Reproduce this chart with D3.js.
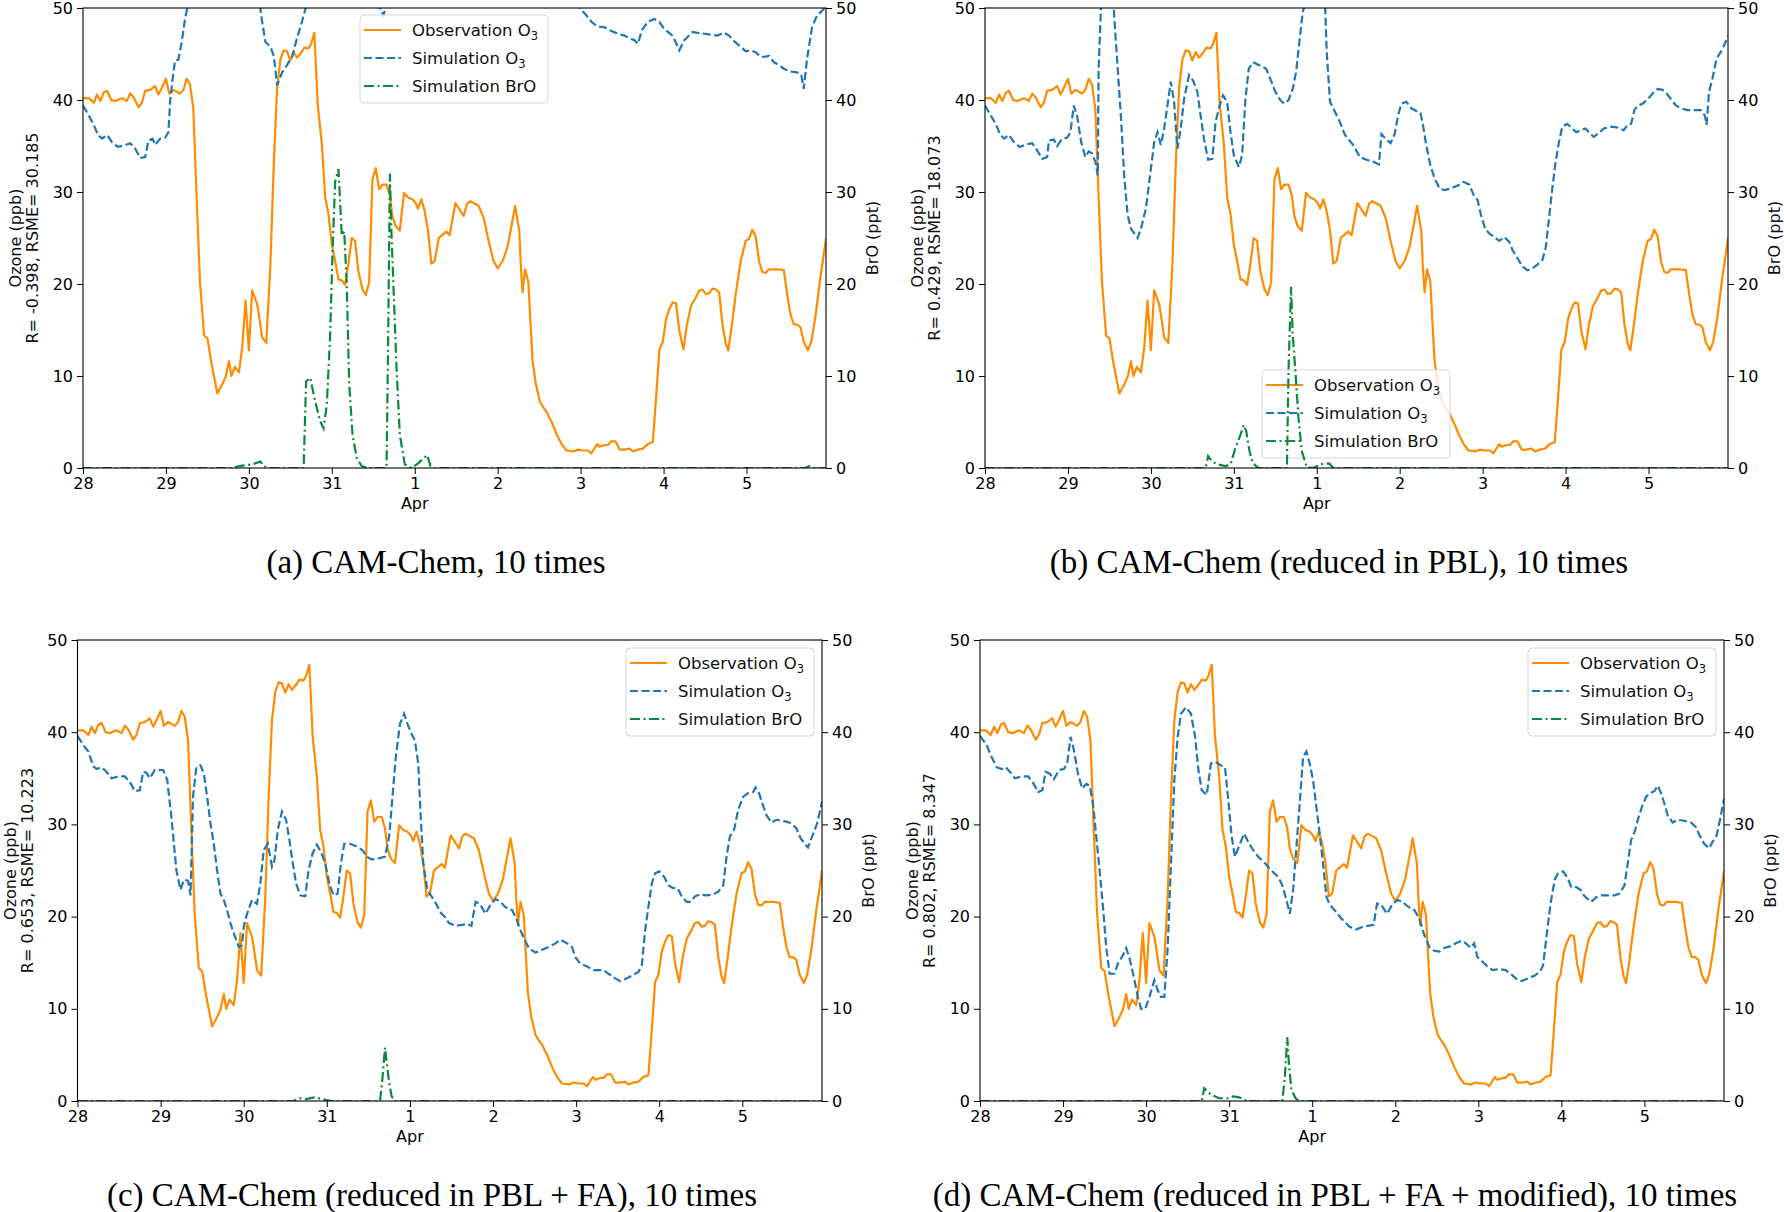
<!DOCTYPE html>
<html>
<head>
<meta charset="utf-8">
<script src="https://cdn.jsdelivr.net/npm/d3@7"></script>
<style>
  body { margin: 0; background: #fff; }
  svg { font-family: "DejaVu Sans", sans-serif; }
</style>
</head>
<body>
<svg id="fig" width="1784" height="1212"></svg>
<script>
// values: [days since 28 Mar 00:00, value]
const obsO3 = [[0,40.2],[0.07,40.2],[0.13,39.7],[0.17,40.6],[0.21,39.9],[0.25,40.8],[0.29,41.0],[0.34,40.0],[0.39,39.9],[0.47,40.2],[0.53,39.9],[0.57,40.7],[0.61,40.3],[0.67,39.2],[0.71,39.7],[0.75,41.0],[0.81,41.1],[0.87,41.5],[0.91,40.6],[0.95,41.3],[1.00,42.3],[1.04,40.7],[1.09,41.1],[1.13,40.9],[1.17,40.7],[1.21,41.1],[1.25,42.3],[1.29,41.7],[1.33,39.1],[1.37,29.4],[1.41,20.3],[1.46,14.4],[1.50,14.1],[1.55,11.3],[1.62,8.1],[1.68,9.1],[1.72,9.9],[1.76,11.6],[1.79,10.0],[1.83,11.0],[1.88,10.4],[1.92,13.1],[1.96,18.2],[2.00,12.8],[2.04,19.3],[2.10,17.8],[2.12,16.7],[2.16,14.2],[2.21,13.6],[2.26,22.2],[2.30,33.0],[2.34,41.3],[2.38,44.4],[2.42,45.4],[2.46,45.3],[2.50,44.3],[2.54,45.2],[2.58,44.6],[2.62,45.0],[2.67,45.7],[2.72,45.6],[2.75,46.1],[2.79,47.3],[2.83,39.5],[2.88,35.2],[2.92,29.4],[2.96,27.6],[3.00,24.3],[3.04,22.5],[3.08,20.5],[3.12,20.4],[3.16,19.9],[3.20,22.2],[3.24,25.0],[3.28,24.7],[3.32,21.4],[3.37,19.4],[3.41,18.8],[3.45,20.2],[3.49,31.4],[3.53,32.6],[3.57,30.3],[3.61,30.8],[3.66,30.8],[3.70,29.6],[3.73,27.4],[3.77,26.3],[3.82,25.8],[3.87,29.9],[3.92,29.4],[3.97,29.2],[4.01,28.8],[4.04,28.2],[4.08,29.2],[4.12,27.9],[4.16,25.8],[4.20,22.2],[4.24,22.5],[4.29,25.0],[4.34,25.4],[4.38,25.7],[4.42,25.3],[4.49,28.8],[4.54,28.1],[4.59,27.4],[4.63,28.7],[4.67,29.0],[4.73,28.7],[4.77,28.5],[4.83,27.2],[4.89,24.7],[4.95,22.5],[5.00,21.7],[5.06,22.5],[5.12,24.1],[5.17,26.5],[5.21,28.5],[5.26,25.8],[5.28,21.8],[5.30,19.1],[5.33,21.6],[5.37,20.2],[5.39,16.7],[5.42,11.7],[5.46,9.1],[5.51,7.2],[5.55,6.6],[5.59,6.1],[5.65,5.0],[5.71,3.7],[5.77,2.6],[5.83,1.9],[5.91,1.8],[5.97,2.0],[6.03,1.9],[6.09,1.9],[6.13,1.6],[6.20,2.6],[6.23,2.3],[6.29,2.5],[6.33,2.5],[6.37,2.9],[6.42,2.9],[6.47,2.0],[6.53,2.0],[6.59,2.1],[6.63,1.8],[6.69,2.0],[6.75,2.1],[6.81,2.6],[6.87,2.8],[6.91,7.7],[6.95,12.9],[6.99,13.7],[7.03,16.2],[7.07,17.3],[7.11,18.0],[7.15,17.9],[7.19,14.9],[7.24,12.9],[7.28,15.5],[7.33,17.6],[7.38,18.4],[7.43,19.3],[7.47,19.4],[7.51,18.9],[7.55,19.0],[7.59,19.5],[7.63,19.4],[7.67,19.1],[7.71,15.6],[7.75,13.5],[7.78,12.8],[7.82,15.3],[7.87,18.9],[7.93,22.5],[7.99,24.7],[8.03,24.9],[8.07,25.9],[8.11,25.2],[8.15,22.5],[8.19,21.3],[8.23,21.2],[8.27,21.6],[8.37,21.6],[8.45,21.5],[8.49,18.9],[8.53,16.7],[8.57,15.6],[8.61,15.6],[8.65,15.3],[8.69,13.7],[8.74,12.8],[8.78,13.7],[8.83,16.4],[8.89,20.7],[8.96,25.0]];

// (a) parts above 50 are hidden by the axes, rough guesses there
const simO3A = [[0,39.4],[0.07,38.3],[0.13,37.3],[0.18,36.2],[0.23,35.8],[0.29,36.2],[0.35,35.4],[0.42,34.9],[0.51,35.1],[0.57,35.3],[0.63,34.7],[0.69,33.7],[0.75,33.8],[0.79,35.6],[0.84,35.8],[0.87,35.1],[0.93,35.8],[0.99,35.9],[1.03,36.5],[1.05,39.8],[1.08,42.3],[1.11,44.3],[1.15,44.4],[1.19,46.3],[1.23,48.8],[1.27,50.5],[1.4,56],[1.7,60],[2.0,56],[2.13,50.5],[2.16,48.5],[2.20,46.3],[2.26,45.8],[2.30,44.8],[2.34,41.6],[2.40,43.0],[2.46,43.8],[2.52,44.7],[2.58,46.7],[2.64,48.5],[2.70,50.5],[2.9,57],[3.2,58],[3.45,53],[3.57,50.2],[3.62,49.2],[3.67,50.5],[4.0,58],[4.6,60],[5.3,57],[5.8,53],[5.96,50.3],[6.05,49.4],[6.13,48.5],[6.20,48.0],[6.29,47.9],[6.37,47.5],[6.45,47.2],[6.53,47.0],[6.59,46.7],[6.65,46.5],[6.69,46.1],[6.74,47.6],[6.81,48.5],[6.89,48.8],[6.95,48.5],[7.01,47.7],[7.11,47.0],[7.19,45.4],[7.25,46.5],[7.35,47.4],[7.41,47.3],[7.49,47.2],[7.57,47.1],[7.65,47.0],[7.73,47.3],[7.79,47.0],[7.85,46.4],[7.93,45.8],[7.99,45.3],[8.05,45.4],[8.11,45.2],[8.17,44.7],[8.22,44.7],[8.27,44.8],[8.33,44.1],[8.39,43.8],[8.45,43.4],[8.53,43.1],[8.61,43.0],[8.66,42.7],[8.69,41.2],[8.73,44.5],[8.79,47.9],[8.85,49.2],[8.89,49.5],[8.96,50.2]];

const simO3B = [[0,39.4],[0.07,38.3],[0.13,37.4],[0.18,36.3],[0.23,35.8],[0.29,36.2],[0.35,35.4],[0.42,34.9],[0.51,35.2],[0.57,35.3],[0.63,34.5],[0.69,33.6],[0.75,33.8],[0.77,35.6],[0.83,35.7],[0.87,35.0],[0.93,35.8],[0.99,35.9],[1.03,36.5],[1.07,39.4],[1.11,38.3],[1.16,35.4],[1.21,33.8],[1.25,34.4],[1.29,34.2],[1.33,33.3],[1.36,31.8],[1.37,43.4],[1.40,50.5],[1.47,56],[1.55,50.5],[1.56,48.8],[1.60,43.4],[1.64,38.0],[1.68,31.5],[1.72,27.5],[1.76,26.0],[1.84,25.0],[1.88,26.0],[1.94,28.2],[1.99,31.8],[2.04,35.4],[2.08,36.5],[2.12,35.1],[2.16,36.9],[2.20,39.4],[2.24,42.0],[2.28,39.8],[2.32,34.7],[2.36,36.9],[2.40,40.1],[2.46,42.7],[2.51,42.1],[2.56,40.9],[2.60,38.3],[2.64,35.8],[2.69,33.5],[2.74,33.6],[2.78,37.6],[2.82,39.1],[2.87,40.5],[2.92,39.8],[2.96,36.5],[3.00,34.0],[3.06,32.7],[3.10,34.0],[3.14,40.1],[3.18,43.4],[3.23,44.1],[3.30,43.8],[3.39,43.4],[3.44,42.3],[3.50,40.9],[3.56,40.0],[3.61,39.6],[3.66,40.0],[3.71,41.2],[3.75,43.0],[3.79,46.3],[3.83,49.5],[3.86,50.5],[3.98,56],[4.10,50.5],[4.12,45.2],[4.16,39.8],[4.22,38.7],[4.28,37.6],[4.34,36.2],[4.44,35.1],[4.52,33.8],[4.60,33.5],[4.68,33.3],[4.75,33.0],[4.78,36.3],[4.83,35.8],[4.89,35.3],[4.94,36.3],[4.98,38.3],[5.02,39.6],[5.08,39.8],[5.14,39.1],[5.20,38.8],[5.25,38.6],[5.28,37.3],[5.32,35.1],[5.37,32.9],[5.42,31.5],[5.48,30.4],[5.54,30.2],[5.62,30.4],[5.70,30.7],[5.77,31.1],[5.84,30.8],[5.89,29.7],[5.94,29.1],[5.98,27.5],[6.03,26.0],[6.08,25.5],[6.14,25.1],[6.20,24.7],[6.26,25.1],[6.32,24.6],[6.36,23.7],[6.42,22.8],[6.48,21.9],[6.54,21.5],[6.60,21.7],[6.66,22.1],[6.72,22.6],[6.76,23.9],[6.80,27.1],[6.84,30.4],[6.88,33.3],[6.92,35.4],[6.96,37.1],[7.02,37.4],[7.08,36.9],[7.13,36.5],[7.18,36.7],[7.24,36.9],[7.30,36.3],[7.34,36.0],[7.40,36.4],[7.46,36.9],[7.55,37.1],[7.63,37.0],[7.70,36.7],[7.75,37.3],[7.79,37.4],[7.83,38.9],[7.87,39.4],[7.93,39.6],[7.99,40.1],[8.05,40.7],[8.11,41.2],[8.17,41.1],[8.22,40.7],[8.27,40.1],[8.33,39.4],[8.39,39.1],[8.47,38.9],[8.55,38.9],[8.63,38.9],[8.68,38.3],[8.70,37.3],[8.73,40.9],[8.77,42.3],[8.82,44.5],[8.87,45.2],[8.91,45.9],[8.96,47.0]];

const simO3C = [[0,39.6],[0.07,38.6],[0.13,37.9],[0.19,36.3],[0.23,36.0],[0.28,36.2],[0.33,35.9],[0.41,35.0],[0.49,35.2],[0.57,35.2],[0.63,34.6],[0.69,33.6],[0.75,33.7],[0.79,35.7],[0.83,35.6],[0.87,35.0],[0.93,35.9],[0.99,35.9],[1.03,35.9],[1.08,34.8],[1.13,30.8],[1.19,25.0],[1.24,22.9],[1.28,24.0],[1.33,23.9],[1.36,22.3],[1.39,33.0],[1.43,36.2],[1.48,36.4],[1.52,35.5],[1.56,33.0],[1.60,30.1],[1.64,27.9],[1.68,25.0],[1.72,22.5],[1.76,21.8],[1.80,20.7],[1.84,19.3],[1.88,18.2],[1.94,16.7],[1.98,16.9],[2.00,18.9],[2.04,20.3],[2.10,21.8],[2.16,21.4],[2.20,23.6],[2.24,27.2],[2.29,27.9],[2.34,25.4],[2.37,26.1],[2.41,29.4],[2.46,31.4],[2.51,30.5],[2.55,28.3],[2.59,25.8],[2.63,23.6],[2.68,22.3],[2.74,22.2],[2.78,25.0],[2.83,26.9],[2.88,27.8],[2.93,27.0],[2.98,25.8],[3.03,23.6],[3.08,22.3],[3.13,22.5],[3.17,25.8],[3.21,27.9],[3.28,27.9],[3.36,27.6],[3.43,27.2],[3.48,26.5],[3.54,26.2],[3.62,26.3],[3.70,26.5],[3.75,28.7],[3.79,33.0],[3.83,37.3],[3.88,40.9],[3.93,42.0],[3.97,40.9],[4.01,40.0],[4.06,39.1],[4.10,36.6],[4.13,30.8],[4.16,25.8],[4.21,22.9],[4.26,22.2],[4.32,21.3],[4.38,20.3],[4.41,20.1],[4.47,19.3],[4.55,19.0],[4.63,19.1],[4.69,19.2],[4.74,19.0],[4.79,21.6],[4.84,21.4],[4.91,20.3],[4.97,21.3],[5.03,21.9],[5.09,21.6],[5.15,21.0],[5.23,20.7],[5.28,19.8],[5.33,18.5],[5.38,17.5],[5.43,16.6],[5.51,16.1],[5.59,16.4],[5.69,16.8],[5.75,17.1],[5.81,17.5],[5.89,17.1],[5.95,16.7],[5.99,15.6],[6.05,14.9],[6.13,14.6],[6.21,14.2],[6.33,14.2],[6.39,13.8],[6.47,13.3],[6.53,13.0],[6.61,13.3],[6.69,13.7],[6.75,14.0],[6.79,14.7],[6.83,18.5],[6.87,21.1],[6.91,23.6],[6.95,24.7],[7.00,24.9],[7.06,24.3],[7.11,23.4],[7.16,23.1],[7.22,23.1],[7.27,22.2],[7.33,21.6],[7.38,21.6],[7.43,22.2],[7.49,22.4],[7.57,22.3],[7.65,22.4],[7.71,22.7],[7.77,23.4],[7.81,26.5],[7.85,28.7],[7.90,29.4],[7.95,31.6],[8.01,33.0],[8.07,33.4],[8.13,33.5],[8.16,34.0],[8.20,33.4],[8.24,32.3],[8.29,31.0],[8.35,30.2],[8.41,30.5],[8.47,30.4],[8.53,30.3],[8.59,30.1],[8.65,29.6],[8.70,28.5],[8.76,27.8],[8.79,27.5],[8.84,28.7],[8.90,30.1],[8.96,32.5]];

const simO3D = [[0,39.6],[0.08,38.6],[0.14,37.3],[0.20,36.2],[0.26,36.0],[0.31,36.2],[0.36,35.7],[0.42,35.0],[0.50,35.2],[0.58,35.2],[0.64,34.5],[0.70,33.5],[0.75,33.7],[0.79,35.7],[0.84,35.5],[0.89,34.9],[0.95,35.9],[1.01,36.0],[1.05,36.6],[1.09,39.5],[1.13,38.1],[1.18,35.5],[1.23,33.9],[1.28,34.4],[1.32,34.2],[1.36,32.3],[1.40,28.7],[1.44,25.0],[1.48,21.1],[1.52,16.7],[1.56,13.8],[1.62,13.8],[1.66,14.9],[1.72,15.8],[1.76,16.6],[1.80,15.5],[1.86,13.1],[1.90,11.3],[1.94,10.0],[1.99,10.0],[2.04,11.3],[2.10,13.1],[2.14,12.0],[2.18,11.3],[2.22,11.3],[2.26,16.7],[2.30,25.8],[2.34,34.8],[2.38,39.5],[2.42,42.0],[2.48,42.7],[2.54,42.0],[2.59,39.5],[2.63,35.9],[2.67,33.7],[2.73,33.2],[2.78,36.6],[2.83,36.8],[2.90,36.4],[2.95,36.2],[2.99,32.6],[3.03,28.7],[3.07,26.5],[3.13,27.9],[3.18,29.0],[3.23,28.1],[3.29,27.2],[3.35,26.5],[3.43,25.8],[3.51,25.0],[3.59,24.3],[3.64,23.4],[3.69,21.8],[3.73,20.3],[3.77,22.9],[3.81,27.6],[3.85,32.3],[3.89,37.3],[3.93,37.9],[3.97,36.6],[4.01,34.8],[4.05,31.9],[4.09,29.0],[4.13,25.8],[4.17,22.2],[4.21,21.3],[4.27,20.7],[4.35,19.8],[4.45,18.9],[4.53,18.6],[4.61,18.9],[4.67,19.0],[4.74,19.1],[4.78,21.4],[4.83,21.3],[4.90,20.3],[4.97,21.4],[5.03,21.8],[5.09,21.6],[5.15,21.1],[5.23,20.7],[5.29,19.8],[5.35,18.0],[5.41,16.7],[5.47,16.3],[5.53,16.2],[5.59,16.6],[5.67,16.8],[5.73,17.1],[5.80,17.4],[5.85,17.1],[5.91,16.6],[5.95,17.1],[5.99,15.6],[6.05,15.1],[6.11,14.6],[6.17,14.2],[6.25,14.3],[6.33,14.2],[6.39,13.8],[6.45,13.3],[6.52,13.0],[6.60,13.3],[6.68,13.6],[6.74,14.0],[6.78,14.7],[6.82,17.8],[6.87,21.4],[6.92,24.0],[6.96,24.7],[7.02,24.9],[7.07,24.3],[7.12,23.2],[7.18,23.2],[7.23,22.9],[7.28,22.2],[7.36,21.6],[7.42,22.1],[7.48,22.3],[7.56,22.3],[7.64,22.3],[7.70,22.5],[7.76,23.4],[7.80,25.8],[7.84,28.3],[7.89,29.4],[7.92,30.5],[7.97,31.9],[8.02,33.0],[8.07,33.4],[8.12,33.6],[8.16,34.2],[8.20,33.4],[8.24,32.3],[8.28,31.0],[8.34,30.2],[8.40,30.5],[8.48,30.4],[8.56,30.2],[8.62,29.7],[8.67,28.7],[8.72,27.9],[8.78,27.4],[8.82,28.1],[8.87,28.8],[8.91,30.5],[8.96,32.8]];

const broA = [[0,0],[1.80,0],[1.88,0.2],[2.04,0.4],[2.14,0.7],[2.18,0.2],[2.24,0],[2.66,0],[2.69,9.4],[2.74,9.8],[2.80,7.2],[2.86,5.1],[2.90,4.3],[2.94,6.9],[2.98,14.5],[3.01,23.9],[3.04,31.1],[3.08,32.5],[3.10,28.9],[3.12,25.3],[3.15,25.7],[3.18,19.9],[3.21,9.0],[3.25,3.6],[3.30,1.1],[3.36,0.2],[3.44,0],[3.66,0],[3.68,14.5],[3.70,32.0],[3.72,25.3],[3.75,18.1],[3.78,10.9],[3.82,3.6],[3.88,0.4],[3.96,0],[4.04,0.5],[4.15,1.4],[4.19,0.2],[4.24,0],[8.70,0],[8.76,0.2],[8.82,0],[8.96,0]];
const broB = [[0,0],[2.66,0],[2.69,1.3],[2.74,0.7],[2.80,0.4],[2.90,0.2],[2.96,0.4],[3.02,2.2],[3.08,3.6],[3.12,4.7],[3.15,4.0],[3.19,1.8],[3.23,0.5],[3.30,0],[3.64,0],[3.66,10.8],[3.69,19.7],[3.71,14.5],[3.74,10.8],[3.78,5.4],[3.82,1.8],[3.88,0.1],[3.96,0],[4.04,0.4],[4.15,0.5],[4.20,0],[8.96,0]];
const broC = [[0,0],[2.60,0],[2.68,0.3],[2.75,0.2],[2.85,0.4],[2.95,0.2],[3.05,0],[3.64,0],[3.67,2.5],[3.70,5.8],[3.72,4.2],[3.75,2.0],[3.78,0.5],[3.82,0],[8.96,0]];
const broD = [[0,0],[2.67,0],[2.70,1.4],[2.78,0.7],[2.88,0.3],[2.98,0.3],[3.05,0.5],[3.12,0.4],[3.17,0.2],[3.21,0],[3.64,0],[3.67,2.5],[3.70,6.9],[3.72,4.0],[3.75,1.2],[3.80,0.3],[3.84,0],[8.96,0]];

const statLabels = ["R= -0.398, RSME= 30.185", "R= 0.429, RSME= 18.073", "R= 0.653, RSME= 10.223", "R= 0.802, RSME= 8.347"];
const captions = ["(a) CAM-Chem, 10 times", "(b) CAM-Chem (reduced in PBL), 10 times",
  "(c) CAM-Chem (reduced in PBL + FA), 10 times", "(d) CAM-Chem (reduced in PBL + FA + modified), 10 times"];
const legendNames = ["Observation O", "Simulation O", "Simulation BrO"];
const yTicks = [0, 10, 20, 30, 40, 50];

const simSets = [simO3A, simO3B, simO3C, simO3D];
const broSets = [broA, broB, broC, broD];

// layout of the four panels (pixels)
const panels = [
  { l: 83, r: 826, t: 8, b: 468, capX: 436, capY: 573, lgX: 360, lgY: 15 },
  { l: 985, r: 1728, t: 8, b: 468, capX: 1339, capY: 573, lgX: 1262, lgY: 370 },
  { l: 77.5, r: 822, t: 640, b: 1101, capX: 432, capY: 1206, lgX: 626, lgY: 648 },
  { l: 980, r: 1724, t: 640, b: 1101, capX: 1335, capY: 1206, lgX: 1528, lgY: 648 }
];

const orange = "#ff8c00", blue = "#1f77b4", green = "#0a8a3c";
const t0 = Date.UTC(2020, 2, 28);
const toDate = d => new Date(t0 + d * 864e5);
const svg = d3.select("#fig");

panels.forEach((p, i) => {
  const x = d3.scaleUtc().domain([toDate(0), toDate(8 + 23 / 24)]).range([p.l, p.r]);
  const y = d3.scaleLinear().domain([0, 50]).range([p.b, p.t]);
  const g = svg.append("g");

  g.append("clipPath").attr("id", "clip" + i)
    .append("rect").attr("x", p.l).attr("y", p.t)
    .attr("width", p.r - p.l).attr("height", p.b - p.t);

  const line = d3.line().x(d => x(toDate(d[0]))).y(d => y(d[1]));

  // axes
  const ax = g.append("g").attr("transform", `translate(0,${p.b})`)
    .call(d3.axisBottom(x).ticks(d3.utcDay.every(1)).tickFormat(d3.utcFormat("%-d"))
      .tickSize(6).tickPadding(4).tickSizeOuter(0));
  const ayl = g.append("g").attr("transform", `translate(${p.l},0)`)
    .call(d3.axisLeft(y).tickValues(yTicks).tickSize(6).tickPadding(4).tickSizeOuter(0));
  const ayr = g.append("g").attr("transform", `translate(${p.r},0)`)
    .call(d3.axisRight(y).tickValues(yTicks).tickSize(6).tickPadding(4).tickSizeOuter(0));
  [ax, ayl, ayr].forEach(a => {
    a.select(".domain").remove();
    a.selectAll("text").attr("font-size", 16).attr("fill", "#000")
      .attr("font-family", "DejaVu Sans");
    a.selectAll("line").attr("stroke", "#000").attr("stroke-width", 1);
  });
  g.append("text").attr("x", x(toDate(4))).attr("y", p.b + 41)
    .attr("text-anchor", "middle").attr("font-size", 16).text("Apr");

  // axis labels
  const cy = (p.t + p.b) / 2;
  g.append("text").attr("transform", `translate(${p.l - 62},${cy}) rotate(-90)`)
    .attr("text-anchor", "middle").attr("font-size", 16).attr("fill", "#111").text("Ozone (ppb)");
  g.append("text").attr("transform", `translate(${p.l - 45},${cy}) rotate(-90)`)
    .attr("text-anchor", "middle").attr("font-size", 16).attr("fill", "#111").text(statLabels[i]);
  g.append("text").attr("transform", `translate(${p.r + 52},${cy}) rotate(-90)`)
    .attr("text-anchor", "middle").attr("font-size", 16).attr("fill", "#111").text("BrO (ppt)");

  // ozone lines
  const lines = g.append("g").attr("clip-path", `url(#clip${i})`);
  lines.append("path").datum(obsO3).attr("d", line)
    .attr("fill", "none").attr("stroke", orange).attr("stroke-width", 2.2)
    .attr("stroke-linejoin", "round");
  lines.append("path").datum(simSets[i]).attr("d", line)
    .attr("fill", "none").attr("stroke", blue).attr("stroke-width", 2.2)
    .attr("stroke-dasharray", "8,3.5");

  // legend
  const lg = g.append("g").attr("transform", `translate(${p.lgX},${p.lgY})`);
  lg.append("rect").attr("width", 188).attr("height", 88).attr("rx", 4)
    .attr("fill", "#fff").attr("fill-opacity", 0.8).attr("stroke", "#d6d6d6");
  const styles = [[orange, null], [blue, "8,3.5"], [green, "10,3.5,2,3.5"]];
  legendNames.forEach((name, k) => {
    const ry = 15 + k * 28;
    lg.append("line").attr("x1", 4).attr("x2", 41).attr("y1", ry).attr("y2", ry)
      .attr("stroke", styles[k][0]).attr("stroke-width", 2.2)
      .attr("stroke-dasharray", styles[k][1]);
    const tx = lg.append("text").attr("x", 52).attr("y", ry).attr("dy", "0.36em")
      .attr("font-size", 16.5).attr("fill", "#111").text(name);
    if (k < 2) tx.append("tspan").attr("font-size", 11.5).attr("dy", 4).text("3");
  });

  // BrO on the twin axis, drawn above the legend
  g.append("g").attr("clip-path", `url(#clip${i})`)
    .append("path").datum(broSets[i]).attr("d", line)
    .attr("fill", "none").attr("stroke", green).attr("stroke-width", 2.2)
    .attr("stroke-dasharray", "10,3.5,2,3.5");

  // frame
  g.append("rect").attr("x", p.l).attr("y", p.t)
    .attr("width", p.r - p.l).attr("height", p.b - p.t)
    .attr("fill", "none").attr("stroke", "#000").attr("stroke-width", 1.1);

  // caption (serif, like the paper text)
  g.append("text").attr("x", p.capX).attr("y", p.capY).attr("text-anchor", "middle")
    .style("font-family", '"Liberation Serif", "DejaVu Serif", serif')
    .attr("font-size", 33).attr("fill", "#000")
    .text(captions[i]);
});
</script>
</body>
</html>
